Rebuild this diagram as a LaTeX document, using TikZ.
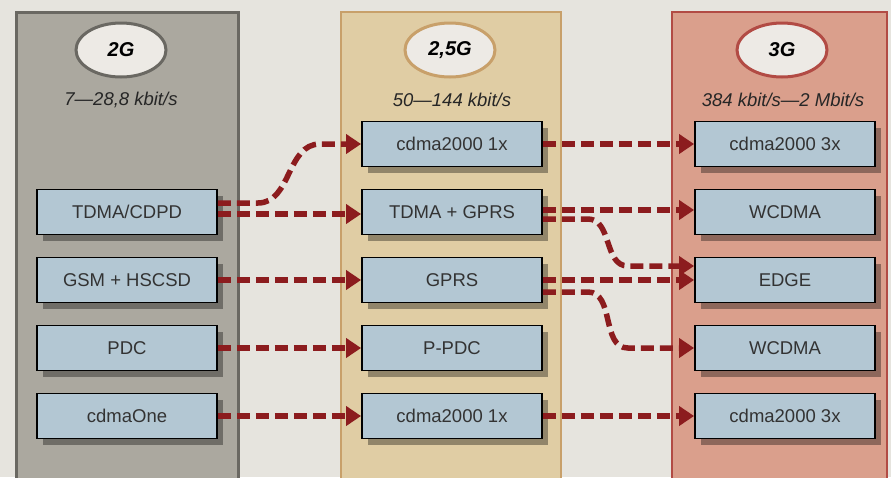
\documentclass[tikz,border=0pt]{standalone}
\usepackage{fontspec}
\setmainfont{Liberation Sans}
\usetikzlibrary{
  arrows.meta,
  positioning,
  shapes.geometric,
  shadows,
  calc}
\definecolor{paper}{HTML}{E6E4DE}
\definecolor{gsmfill}{HTML}{ABA89F}
\definecolor{gsmline}{HTML}{6A6862}
\definecolor{gprsfill}{HTML}{E0CDA4}
\definecolor{gprsline}{HTML}{C8A06A}
\definecolor{umtsfill}{HTML}{DA9F8C}
\definecolor{umtsline}{HTML}{B24B44}
\definecolor{boxblue}{HTML}{B3C7D3}
\definecolor{arrowred}{HTML}{8C1C1E}
\definecolor{ovalfill}{HTML}{EDEAE5}
\tikzset{generation/.style={ellipse, draw, line width=3pt, fill=ovalfill,
           minimum width=90pt, minimum height=54pt,
           font=\fontsize{20}{24}\selectfont\bfseries\itshape},
         rate/.style={font=\fontsize{18.5}{22}\selectfont\itshape, text=black!85},
         standard/.style={draw=black, line width=1.8pt, fill=boxblue,
           minimum width=180pt, minimum height=45pt, text=black!80,
           font=\fontsize{18.5}{22}\selectfont,
           drop shadow={shadow xshift=6pt, shadow yshift=-6pt, fill=black, opacity=0.35}},
         evolves/.style={->, >={Triangle[length=15pt, width=19pt]}, arrowred,
           line width=5.5pt, dash pattern=on 13pt off 6pt}
        }

\begin{document}
\begin{tikzpicture}[x=1pt, y=-1pt, node distance=68pt]
\useasboundingbox[fill=paper] (0,0) rectangle (891,477);
\clip (0,0) rectangle (891,477);

% columns
\draw[gsmline, line width=3pt, fill=gsmfill] (16,12) rectangle (238,495);
\draw[gprsline, line width=2pt, fill=gprsfill] (341,12) rectangle (561,495);
\draw[umtsline, line width=2.5pt, fill=umtsfill] (672,12) rectangle (887,495);

\node[generation, draw=gsmline] (gen2) at (121,50) {2G};
\node[generation, draw=gprsline] (gen25) at (450,50) {2,5G};
\node[generation, draw=umtsline] (gen3) at (782,50) {3G};
\node[rate] (rate2) at (121,100) {7—28,8 kbit/s};
\node[rate] (rate25) at (452,100) {50—144 kbit/s};
\node[rate] (rate3) at (783,100) {384 kbit/s—2 Mbit/s};

\coordinate (zero) at (127,144);
\node[standard, below of = zero](tdmacdpd){TDMA/CDPD};
\node[standard, below of = tdmacdpd](gsmhscsd){GSM + HSCSD};
\node[standard, below of = gsmhscsd](pdc){PDC};
\node[standard, below of = pdc](cdmaone){cdmaOne};

\node[standard, right of = zero, node distance=325pt](cdmatop){cdma2000 1x};
\node[standard, below of = cdmatop](tdmagprs){TDMA + GPRS};
\node[standard, below of = tdmagprs](gprs){GPRS};
\node[standard, below of = gprs](ppdc){P-PDC};
\node[standard, below of = ppdc](cdmabottom){cdma2000 1x};

\node[standard, right of = cdmatop, node distance=333pt](threextop){cdma2000 3x};
\node[standard, below of = threextop](wcdmatop){WCDMA};
\node[standard, below of = wcdmatop](edge){EDGE};
\node[standard, below of = edge](wcdmabottom){WCDMA};
\node[standard, below of = wcdmabottom](threexbottom){cdma2000 3x};

% 2G -> 2,5G
\draw[evolves]([yshift=9pt]tdmacdpd.east) -- ++(40pt,0) to [out=0, in=180] ++(62pt,59pt) -- (cdmatop.west);
\draw[evolves]([yshift=-2pt]tdmacdpd.east) -- ([yshift=-2pt]tdmagprs.west);
\draw[evolves](gsmhscsd) -- (gprs);
\draw[evolves](pdc) -- (ppdc);
\draw[evolves](cdmaone) -- (cdmabottom);

% 2,5G -> 3G
\draw[evolves](cdmatop) -- (threextop);
\draw[evolves]([yshift=2pt]tdmagprs.east) -- ([yshift=2pt]wcdmatop.west);
\draw[evolves]([yshift=-7pt]tdmagprs.east) -- ++(45pt,0) to [out=0, in=180] ++(40pt,-47pt) -- ([yshift=14pt]edge.west);
\draw[evolves](gprs) -- (edge);
\draw[evolves]([yshift=-12pt]gprs.east) -- ++(45pt,0) to [out=0, in=180] ++(40pt,-56pt) -- (wcdmabottom.west);
\draw[evolves](cdmabottom) -- (threexbottom);

\end{tikzpicture}
\end{document}
